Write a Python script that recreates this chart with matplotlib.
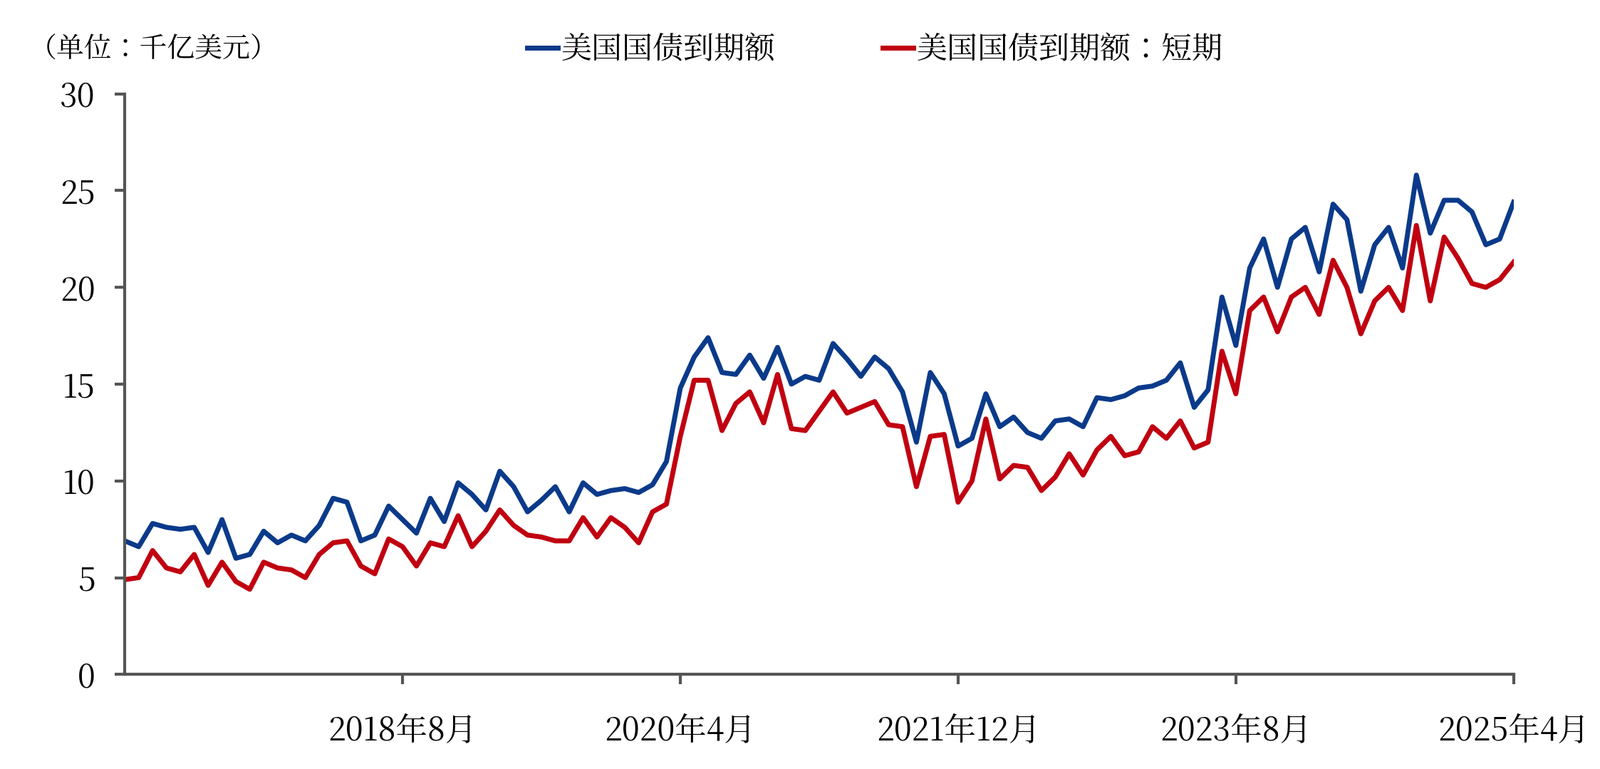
import matplotlib.pyplot as plt
from matplotlib import font_manager
import numpy as np

cjk = [f.name for f in font_manager.fontManager.ttflist if "CJK" in f.name]
sc = [n for n in cjk if "SC" in n]
plt.rcParams["font.family"] = (sc or cjk or ["DejaVu Sans"])[0]

# monthly, 2016-12 .. 2025-4
total = [6.9, 6.6, 7.8, 7.6, 7.5, 7.6, 6.3, 8.0, 6.0, 6.2,
         7.4, 6.8, 7.2, 6.9, 7.7, 9.1, 8.9, 6.9, 7.2, 8.7,
         8.0, 7.3, 9.1, 7.9, 9.9, 9.3, 8.5, 10.5, 9.7, 8.4,
         9.0, 9.7, 8.4, 9.9, 9.3, 9.5, 9.6, 9.4, 9.8, 11.0,
         14.8, 16.4, 17.4, 15.6, 15.5, 16.5, 15.3, 16.9, 15.0, 15.4,
         15.2, 17.1, 16.3, 15.4, 16.4, 15.8, 14.6, 12.0, 15.6, 14.5,
         11.8, 12.2, 14.5, 12.8, 13.3, 12.5, 12.2, 13.1, 13.2, 12.8,
         14.3, 14.2, 14.4, 14.8, 14.9, 15.2, 16.1, 13.8, 14.7, 19.5,
         17.0, 21.0, 22.5, 20.0, 22.5, 23.1, 20.8, 24.3, 23.5, 19.8,
         22.2, 23.1, 21.0, 25.8, 22.8, 24.5, 24.5, 23.9, 22.2, 22.5,
         24.4]
short = [4.9, 5.0, 6.4, 5.5, 5.3, 6.2, 4.6, 5.8, 4.8, 4.4,
         5.8, 5.5, 5.4, 5.0, 6.2, 6.8, 6.9, 5.6, 5.2, 7.0,
         6.6, 5.6, 6.8, 6.6, 8.2, 6.6, 7.4, 8.5, 7.7, 7.2,
         7.1, 6.9, 6.9, 8.1, 7.1, 8.1, 7.6, 6.8, 8.4, 8.8,
         12.3, 15.2, 15.2, 12.6, 14.0, 14.6, 13.0, 15.5, 12.7, 12.6,
         13.6, 14.6, 13.5, 13.8, 14.1, 12.9, 12.8, 9.7, 12.3, 12.4,
         8.9, 10.0, 13.2, 10.1, 10.8, 10.7, 9.5, 10.2, 11.4, 10.3,
         11.6, 12.3, 11.3, 11.5, 12.8, 12.2, 13.1, 11.7, 12.0, 16.7,
         14.5, 18.8, 19.5, 17.7, 19.5, 20.0, 18.6, 21.4, 20.0, 17.6,
         19.3, 20.0, 18.8, 23.2, 19.3, 22.6, 21.5, 20.2, 20.0, 20.4,
         21.3]
tick_pos = [20, 40, 60, 80, 100]
tick_labels = ["2018年8月", "2020年4月", "2021年12月", "2023年8月", "2025年4月"]

x = np.arange(len(total))
fig = plt.figure(figsize=(22.46, 10.79), dpi=100)
ax = fig.add_axes([0.078, 0.123, 0.868, 0.755])
ax.plot(x, total, color="#0b3a8a", lw=5, label="美国国债到期额", solid_joinstyle="round")
ax.plot(x, short, color="#c00010", lw=5, label="美国国债到期额：短期", solid_joinstyle="round")

ax.set_xlim(0, 100)
ax.set_ylim(0, 30)
ax.set_yticks([0, 5, 10, 15, 20, 25, 30])
ax.set_xticks(tick_pos)
ax.set_xticklabels(tick_labels)
for s in ["top", "right"]:
    ax.spines[s].set_visible(False)
for s in ["left", "bottom"]:
    ax.spines[s].set_color("#555555")
    ax.spines[s].set_linewidth(3)
ax.tick_params(axis="both", labelsize=32, color="#555555", width=3, length=10)
ax.tick_params(axis="x", pad=30)
ax.tick_params(axis="y", pad=20)

fig.text(0.018, 0.925, "（单位：千亿美元）", fontsize=28)
ax.legend(loc="lower center", bbox_to_anchor=(0.54, 1.0), ncol=2, frameon=False,
          fontsize=31, handlelength=1.0, columnspacing=3.5, handletextpad=0.1)
fig.savefig("out.png")
